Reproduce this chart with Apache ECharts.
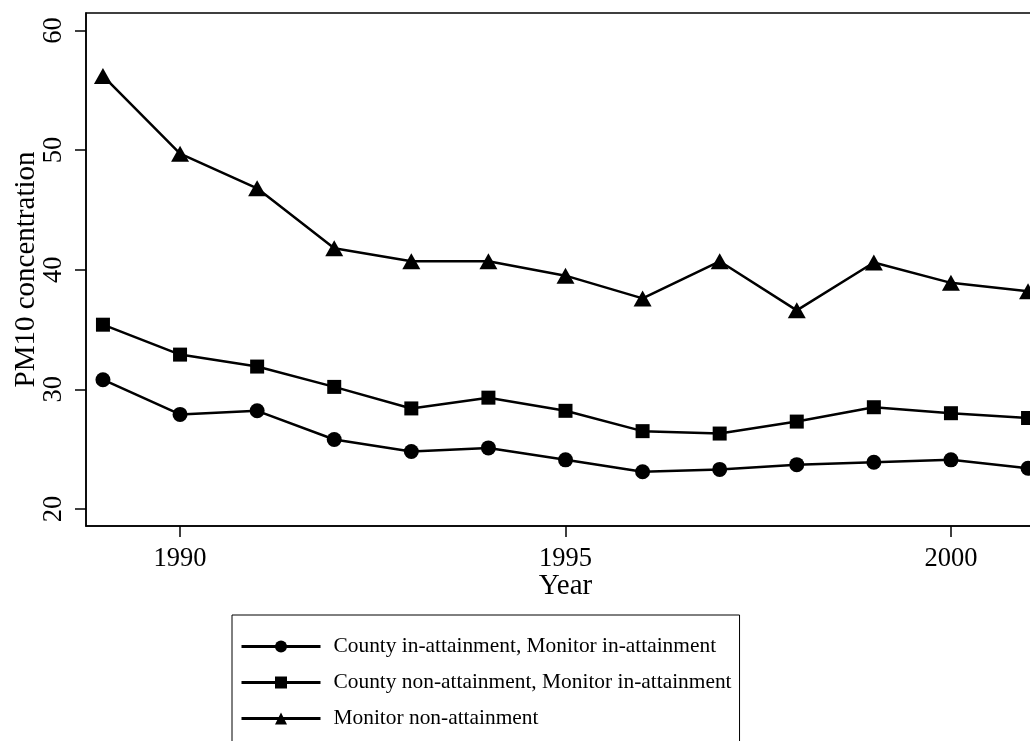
<!DOCTYPE html>
<html>
<head>
<meta charset="utf-8">
<script src="https://cdn.jsdelivr.net/npm/echarts@6/dist/echarts.min.js"></script>
<style>
  html, body { margin: 0; padding: 0; background: #fff; }
  #chart { width: 1030px; height: 741px; }
</style>
</head>
<body>
<div id="chart"></div>
<script>
// PM10 by year, three monitor groups
let years = [1989, 1990, 1991, 1992, 1993, 1994, 1995, 1996, 1997, 1998, 1999, 2000, 2001];
let countyInMonitorIn = [30.8, 27.9, 28.2, 25.8, 24.8, 25.1, 24.1, 23.1, 23.3, 23.7, 23.9, 24.1, 23.4];
let countyNonMonitorIn = [35.4, 32.9, 31.9, 30.2, 28.4, 29.3, 28.2, 26.5, 26.3, 27.3, 28.5, 28.0, 27.6];
let monitorNon = [56.2, 49.7, 46.8, 41.8, 40.7, 40.7, 39.5, 37.6, 40.7, 36.6, 40.6, 38.9, 38.2];
let xTicks = [1990, 1995, 2000];
let yTicks = [20, 30, 40, 50, 60];
let seriesNames = [
  'County in-attainment, Monitor in-attainment',
  'County non-attainment, Monitor in-attainment',
  'Monitor non-attainment'
];

let font = 'Liberation Serif, Times New Roman, serif';

function pairs(vals) {
  return years.map(function (y, i) { return [y, vals[i]]; });
}

function lineSeries(name, vals, symbol, size) {
  return {
    name: name,
    type: 'line',
    data: pairs(vals),
    symbol: symbol,
    symbolSize: size,
    showSymbol: true,
    animation: false,
    lineStyle: { color: '#000', width: 2.5 },
    itemStyle: { color: '#000' }
  };
}

let myChart = echarts.init(document.getElementById('chart'));
let option = {
  backgroundColor: '#fff',
  animation: false,
  grid: {
    left: 86,
    top: 13,
    right: -15,
    bottom: 215,
    outerBoundsMode: 'none',
    containLabel: false,
    show: true,
    borderColor: '#000',
    borderWidth: 1.5
  },
  legend: {
    orient: 'vertical',
    left: 232,
    top: 615,
    height: 200,
    padding: [21, 8, 40, 8],
    itemGap: 15,
    itemWidth: 79,
    itemHeight: 15,
    borderColor: '#000',
    borderWidth: 1,
    lineStyle: { width: 3 },
    textStyle: { color: '#000', fontFamily: font, fontSize: 21.4, lineHeight: 21, padding: [0, 0, 0, 8] },
    data: seriesNames
  },
  xAxis: {
    type: 'value',
    min: 1988.78,
    max: 2001.22,
    name: 'Year',
    nameLocation: 'middle',
    nameGap: 46,
    nameMoveOverlap: false,
    nameTextStyle: { color: '#000', fontFamily: font, fontSize: 29 },
    axisLine: { show: true, lineStyle: { color: '#000', width: 1.5 } },
    axisTick: { show: true, length: 11, customValues: xTicks, lineStyle: { color: '#000', width: 1.5 } },
    axisLabel: {
      customValues: xTicks, margin: 20, color: '#000', fontFamily: font, fontSize: 26.5,
      formatter: function (v) { return String(v); }
    },
    splitLine: { show: false }
  },
  yAxis: {
    type: 'value',
    min: 18.57,
    max: 61.46,
    name: 'PM10 concentration',
    nameLocation: 'middle',
    nameGap: 45,
    nameMoveOverlap: false,
    nameTextStyle: { color: '#000', fontFamily: font, fontSize: 29 },
    axisLine: { show: true, lineStyle: { color: '#000', width: 1.5 } },
    axisTick: { show: true, length: 11, customValues: yTicks, lineStyle: { color: '#000', width: 1.5 } },
    axisLabel: {
      customValues: yTicks, rotate: 90, margin: 18, color: '#000', fontFamily: font, fontSize: 26.5,
      formatter: function (v) { return String(v); }
    },
    splitLine: { show: false }
  },
  series: [
    lineSeries(seriesNames[0], countyInMonitorIn, 'circle', 15),
    lineSeries(seriesNames[1], countyNonMonitorIn, 'rect', 14),
    lineSeries(seriesNames[2], monitorNon, 'triangle', [18, 16])
  ]
};
myChart.setOption(option);
</script>
</body>
</html>
